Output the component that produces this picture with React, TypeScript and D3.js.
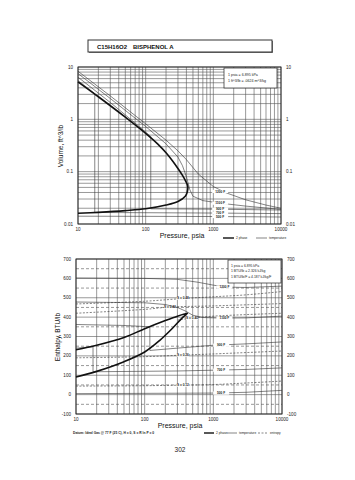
import React from "react";
import * as d3 from "d3";

// ---------- data ----------
const title = "C15H16O2";
const name = "BISPHENOL A";

const pressureTicks = [10, 100, 1000, 10000];
const volumeTicks = [0.01, 0.1, 1, 10];
const enthalpyTicks = [-100, 0, 100, 200, 300, 400, 500, 600, 700];

// top chart: saturation dome (P psia, V ft3/lb)
const satVapV: [number, number][] = [[10, 5.2], [20, 2.7], [50, 1.1], [100, 0.54], [150, 0.34], [200, 0.23], [250, 0.16], [300, 0.115], [350, 0.085], [390, 0.066], [420, 0.052]];
const satLiqV: [number, number][] = [[420, 0.052], [412, 0.041], [385, 0.034], [300, 0.027], [200, 0.023], [100, 0.0195], [50, 0.018], [20, 0.0167], [10, 0.016]];

const isoNames = ["1200 F", "1100 F", "900 F", "700 F", "500 F"];
const isoV: [number, number][][] = [
  [[10, 8.3], [30, 2.8], [100, 0.82], [200, 0.4], [300, 0.25], [400, 0.17], [600, 0.09], [1000, 0.052], [1500, 0.04], [3000, 0.029], [6000, 0.023], [10000, 0.02]],
  [[10, 7.5], [30, 2.5], [100, 0.73], [200, 0.34], [300, 0.19], [350, 0.13], [400, 0.08], [450, 0.045], [500, 0.034], [700, 0.028], [1260, 0.025], [3000, 0.022], [10000, 0.019]],
  [[10, 6.4], [30, 2.1], [60, 1.0], [119, 0.47], [119, 0.0195], [1000, 0.0192], [10000, 0.0185]],
  [[10, 5.5], [17.7, 3.1], [17.7, 0.0166], [1000, 0.0162], [10000, 0.0158]],
  [[10, 0.0141], [1000, 0.0139], [10000, 0.0136]],
];
const isoVLabel: [number, number][] = [[1260, 0.042], [1260, 0.025], [1260, 0.0192], [1260, 0.0162], [1260, 0.0139]];

// bottom chart: saturation dome (P psia, H BTU/lb)
const satVapH: [number, number][] = [[10, 232], [20, 255], [50, 295], [100, 340], [200, 382], [300, 405], [380, 416], [420, 420]];
const satLiqH: [number, number][] = [[420, 420], [350, 395], [250, 340], [166, 280], [100, 220], [50, 170], [20, 120], [10, 91]];

const isoH: [number, number][][] = [
  [[10, 602], [100, 600], [300, 595], [600, 580], [1000, 565], [1500, 555], [3000, 553], [10000, 560]],
  [[10, 478], [100, 474], [200, 465], [300, 450], [400, 430], [500, 410], [700, 398], [1300, 395], [3000, 396], [10000, 405]],
  [[10, 362], [50, 357], [119, 350], [119, 228], [300, 240], [1000, 255], [3000, 262], [10000, 272]],
  [[10, 240], [17.7, 247], [17.7, 118], [300, 122], [1000, 126], [3000, 130], [10000, 138]],
  [[10, 5], [1000, 8], [3000, 12], [10000, 22]],
];
const isoHLabel: [number, number][] = [[1450, 555], [1450, 395], [1300, 255], [1300, 126], [1300, 8]];

const entNames = ["S = 0.48", "S = 0.42", "S = 0.40", "S = 0.26", "S = 0.12"];
const entH: [number, number][][] = [
  [[10, 468], [100, 482], [360, 496], [1000, 505], [3000, 515], [10000, 532]],
  [[10, 420], [100, 440], [233, 452], [1000, 458], [10000, 470]],
  [[300, 385], [490, 395], [1000, 405], [10000, 420]],
  [[10, 190], [100, 196], [360, 204], [1000, 210], [10000, 225]],
  [[10, 44], [100, 46], [360, 49], [1000, 52], [10000, 70]],
];
const entLabel: [number, number][] = [[360, 498], [233, 452], [490, 395], [360, 204], [360, 49]];

// ---------- layout ----------
const W = 355, H = 480;
const font = "Liberation Sans, Arial, sans-serif";

export default function App() {
  const xT = d3.scaleLog().domain([10, 10000]).range([78, 281]);
  const yT = d3.scaleLog().domain([0.01, 10]).range([224, 67]);
  const xB = d3.scaleLog().domain([10, 10000]).range([76, 282]);
  const yB = d3.scaleLinear().domain([-100, 700]).range([414, 259]);

  const lineT = d3.line<[number, number]>().x(d => xT(d[0])).y(d => yT(d[1]));
  const lineTc = d3.line<[number, number]>().x(d => xT(d[0])).y(d => yT(d[1])).curve(d3.curveCatmullRom.alpha(0.5));
  const lineB = d3.line<[number, number]>().x(d => xB(d[0])).y(d => yB(d[1]));
  const lineBc = d3.line<[number, number]>().x(d => xB(d[0])).y(d => yB(d[1])).curve(d3.curveCatmullRom.alpha(0.5));

  const xMinor = xT.ticks();
  const yMinor = yT.ticks();
  const yBgrid = d3.range(-100, 701, 50);

  const tickFs = 4.6;

  return (
    <svg width={W} height={H} style={{ position: "absolute", left: 0, top: 0, background: "#fff" }} fontFamily={font}>
      <rect width={W} height={H} fill="#fff" />
      {/* title box */}
      <rect x={88} y={40} width={184} height={12} fill="#fff" stroke="#333" strokeWidth={1} />
      <line x1={89} y1={52.5} x2={272.5} y2={52.5} stroke="#555" strokeWidth={1} />
      <line x1={272.5} y1={41} x2={272.5} y2={52.5} stroke="#555" strokeWidth={1} />
      <text x={97} y={48.5} fontSize={6} fontWeight="bold" fill="#111">{title}</text>
      <text x={133} y={48.5} fontSize={6} fontWeight="bold" fill="#111">{name}</text>

      {/* ===== TOP CHART ===== */}
      <g>
        {xMinor.map((v, i) => (
          <line key={"tx" + i} x1={xT(v)} x2={xT(v)} y1={67} y2={224} stroke="#555" strokeWidth={0.6} />
        ))}
        {yMinor.map((v, i) => (
          <line key={"ty" + i} x1={78} x2={281} y1={yT(v)} y2={yT(v)} stroke="#555" strokeWidth={0.6} />
        ))}
        <rect x={78} y={67} width={203} height={157} fill="none" stroke="#222" strokeWidth={0.9} />
        {volumeTicks.map((v, i) => (
          <g key={"vt" + i}>
            <text x={73} y={yT(v) + 1.5} fontSize={tickFs} textAnchor="end" fill="#222">{String(v)}</text>
            <text x={286} y={yT(v) + 1.5} fontSize={tickFs} textAnchor="start" fill="#222">{String(v)}</text>
          </g>
        ))}
        {pressureTicks.map((v, i) => (
          <text key={"pt" + i} x={xT(v)} y={231} fontSize={tickFs} textAnchor="middle" fill="#222">{String(v)}</text>
        ))}
        <text x={182} y={238} fontSize={7} textAnchor="middle" fill="#111">Pressure,  psia</text>
        <text transform={`translate(63,146) rotate(-90)`} fontSize={6.5} textAnchor="middle" fill="#111">Volume,  ft^3/lb</text>

        {/* isotherms */}
        {isoV.map((d, i) => (
          <path key={"iv" + i} d={lineT(d) || ""} fill="none" stroke="#333" strokeWidth={0.6} />
        ))}
        {isoVLabel.map((d, i) => (
          <g key={"ivl" + i}>
            <rect x={xT(d[0]) - 8} y={yT(d[1]) - 1.6} width={16} height={3.2} fill="#fff" />
            <text x={xT(d[0])} y={yT(d[1]) + 1.2} fontSize={3.2} textAnchor="middle" fill="#222" fontWeight="bold">{isoNames[i]}</text>
          </g>
        ))}
        {/* saturation */}
        <path d={lineTc([...satVapV, ...satLiqV.slice(1)]) || ""} fill="none" stroke="#111" strokeWidth={1.6} />

        {/* conversion box */}
        <rect x={224} y={68} width={53} height={20} fill="#fff" stroke="#222" strokeWidth={0.7} />
        <text x={228} y={75.5} fontSize={3.6} fill="#222">1 psia = 6.895 kPa</text>
        <text x={228} y={81.5} fontSize={3.6} fill="#222">1 ft^3/lb = .0624 m^3/kg</text>

        {/* legend */}
        <line x1={223} x2={234} y1={238} y2={238} stroke="#111" strokeWidth={1.4} />
        <text x={236} y={239.2} fontSize={3.2} fill="#222">2 phase</text>
        <line x1={256} x2={267} y1={238} y2={238} stroke="#333" strokeWidth={0.6} />
        <text x={269} y={239.2} fontSize={3.2} fill="#222">temperature</text>
      </g>

      {/* ===== BOTTOM CHART ===== */}
      <g>
        {xMinor.map((v, i) => (
          <line key={"bx" + i} x1={xB(v)} x2={xB(v)} y1={259} y2={414} stroke="#555" strokeWidth={0.6} />
        ))}
        {yBgrid.map((v, i) => (
          <line key={"by" + i} x1={76} x2={282} y1={yB(v)} y2={yB(v)} stroke="#555" strokeWidth={0.6} strokeDasharray={v % 100 === 0 ? undefined : "3,2"} />
        ))}
        <rect x={76} y={259} width={206} height={155} fill="none" stroke="#222" strokeWidth={0.9} />
        {enthalpyTicks.map((v, i) => (
          <g key={"ht" + i}>
            <text x={71} y={yB(v) + 1.5} fontSize={tickFs} textAnchor="end" fill="#222">{String(v)}</text>
            <text x={287} y={yB(v) + 1.5} fontSize={tickFs} textAnchor="start" fill="#222">{String(v)}</text>
          </g>
        ))}
        {pressureTicks.map((v, i) => (
          <text key={"bp" + i} x={xB(v)} y={421} fontSize={tickFs} textAnchor="middle" fill="#222">{String(v)}</text>
        ))}
        <text x={180} y={428} fontSize={7} textAnchor="middle" fill="#111">Pressure,  psia</text>
        <text transform={`translate(60,337) rotate(-90)`} fontSize={6.5} textAnchor="middle" fill="#111">Enthalpy, BTU/lb</text>

        {/* entropy */}
        {entH.map((d, i) => (
          <path key={"eh" + i} d={lineBc(d) || ""} fill="none" stroke="#333" strokeWidth={0.6} strokeDasharray="2,1.5" />
        ))}
        {entLabel.map((d, i) => (
          <g key={"ehl" + i}>
            <rect x={xB(d[0]) - 6} y={yB(d[1]) - 1.6} width={12} height={3.2} fill="#fff" />
            <text x={xB(d[0])} y={yB(d[1]) + 1.2} fontSize={3.2} textAnchor="middle" fill="#222" fontWeight="bold">{entNames[i]}</text>
          </g>
        ))}
        {/* isotherms */}
        {isoH.map((d, i) => (
          <path key={"ih" + i} d={lineB(d) || ""} fill="none" stroke="#333" strokeWidth={0.6} />
        ))}
        {isoHLabel.map((d, i) => (
          <g key={"ihl" + i}>
            <rect x={xB(d[0]) - 8} y={yB(d[1]) - 1.6} width={16} height={3.2} fill="#fff" />
            <text x={xB(d[0])} y={yB(d[1]) + 1.2} fontSize={3.2} textAnchor="middle" fill="#222" fontWeight="bold">{isoNames[i]}</text>
          </g>
        ))}
        {/* saturation */}
        <path d={lineBc([...satVapH, ...satLiqH.slice(1)]) || ""} fill="none" stroke="#111" strokeWidth={1.6} />

        {/* conversion box */}
        <rect x={228} y={260} width={53} height={23} fill="#fff" stroke="#222" strokeWidth={0.7} />
        <text x={231} y={266.5} fontSize={3.4} fill="#222">1 psia = 6.895 kPa</text>
        <text x={231} y={272} fontSize={3.4} fill="#222">1 BTU/lb = 2.326 kJ/kg</text>
        <text x={231} y={277.5} fontSize={3.4} fill="#222">1 BTU/lb/F = 4.187 kJ/kg/F</text>

        {/* footnote + legend */}
        <text x={73} y={434} fontSize={3.3} fill="#222" fontWeight="bold">Datum: Ideal Gas @ 77 F (25 C), H = 0, S = R ln P = 0</text>
        <line x1={204} x2={214} y1={433} y2={433} stroke="#111" strokeWidth={1.4} />
        <text x={216} y={434.2} fontSize={3.2} fill="#222">2 phase</text>
        <line x1={227} x2={237} y1={433} y2={433} stroke="#333" strokeWidth={0.6} />
        <text x={239} y={434.2} fontSize={3.2} fill="#222">temperature</text>
        <line x1={258} x2={268} y1={433} y2={433} stroke="#333" strokeWidth={0.6} strokeDasharray="2,1.5" />
        <text x={270} y={434.2} fontSize={3.2} fill="#222">entropy</text>
      </g>

      <text x={180} y={452} fontSize={6.5} textAnchor="middle" fill="#222">302</text>
    </svg>
  );
}
